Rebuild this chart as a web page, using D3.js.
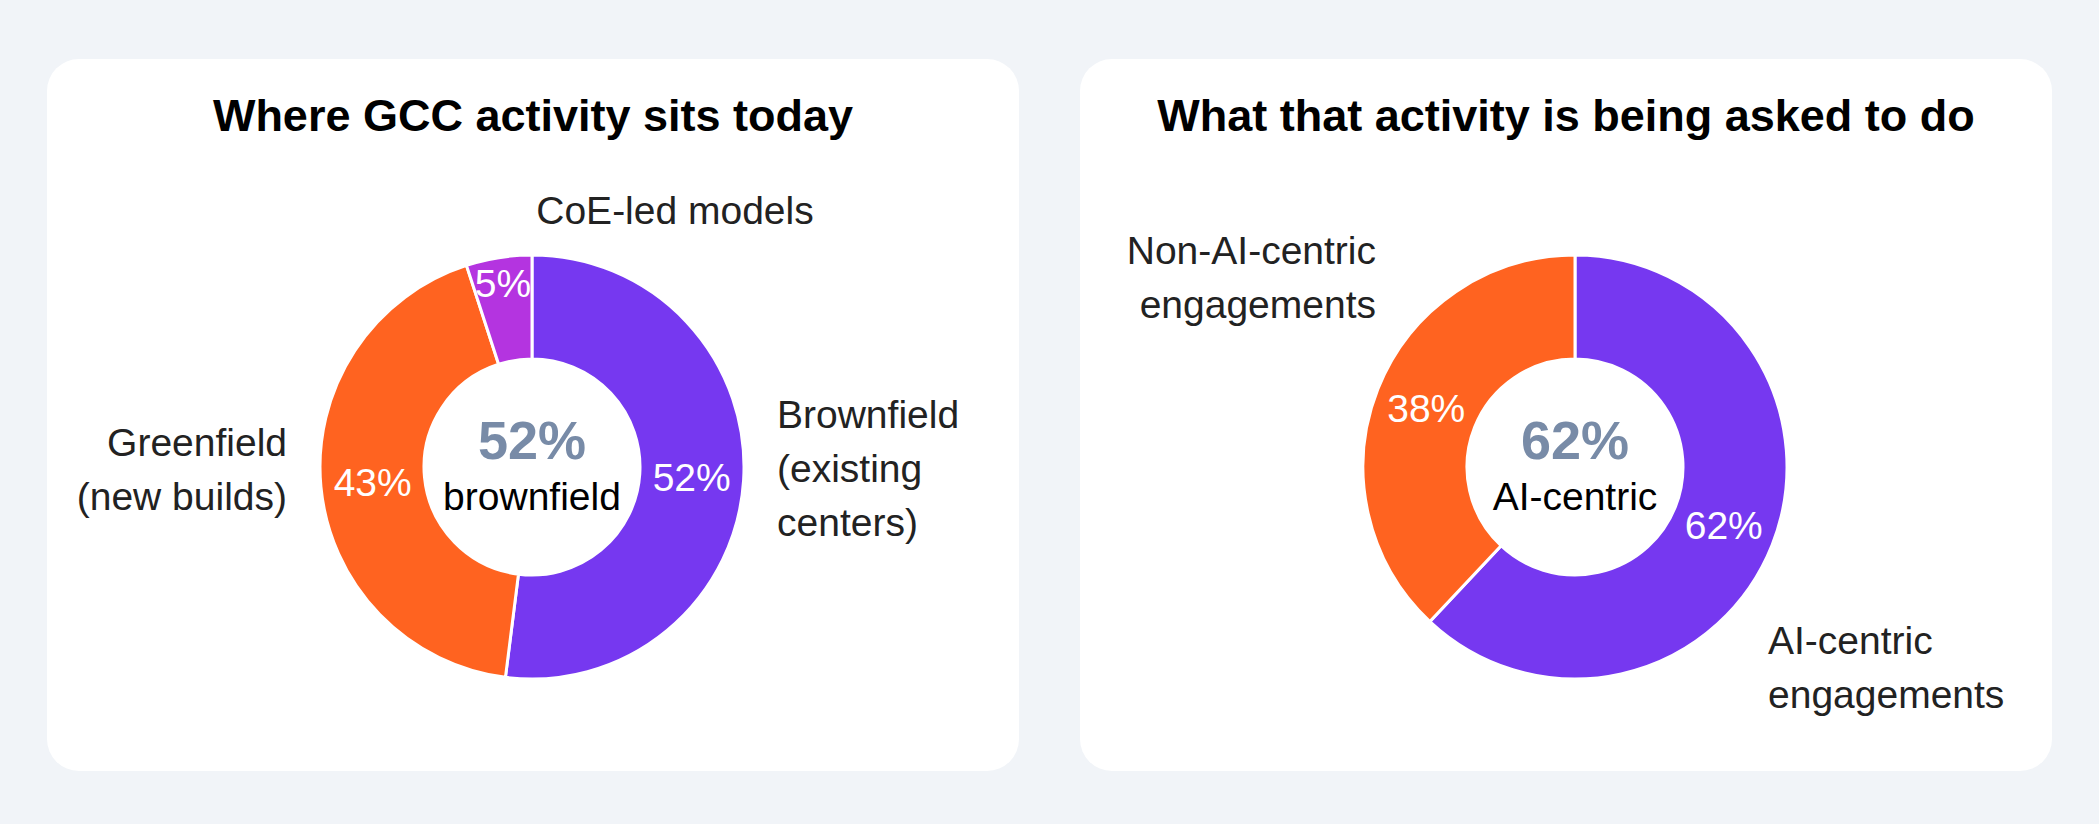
<!DOCTYPE html>
<html>
<head>
<meta charset="utf-8">
<script src="https://cdn.jsdelivr.net/npm/d3@7"></script>
<style>
  html, body { margin: 0; padding: 0; background: #f1f4f8; }
  svg { display: block; font-family: "Liberation Sans", Arial, Helvetica, sans-serif; }
</style>
</head>
<body>
<div id="chart"></div>
<script>
// chart 1
var leftTitle = "Where GCC activity sits today"
var leftCategories = ["Brownfield (existing centers)", "Greenfield (new builds)", "CoE-led models"]
var leftLabelLines = [["Brownfield", "(existing", "centers)"], ["Greenfield", "(new builds)"], ["CoE-led models"]]
var leftValues = [52, 43, 5]
var leftCenter = ["52%", "brownfield"]

// chart 2
var rightTitle = "What that activity is being asked to do"
var rightCategories = ["AI-centric engagements", "Non-AI-centric engagements"]
var rightLabelLines = [["AI-centric", "engagements"], ["Non-AI-centric", "engagements"]]
var rightValues = [62, 38]
var rightCenter = ["62%", "AI-centric"]

var W = 2099, H = 824
var svg = d3.select("#chart").append("svg").attr("width", W).attr("height", H)

function drawDonut(opt) {
	var g = svg.append("g")

	g.append("rect")
		.attr("x", opt.cardX).attr("y", 59)
		.attr("width", 972).attr("height", 712)
		.attr("rx", 32).attr("ry", 32)
		.attr("fill", "#ffffff")

	var tx = opt.cardX + 486
	g.append("text")
		.attr("x", tx).attr("y", 131)
		.attr("text-anchor", "middle")
		.attr("font-size", 45).attr("font-weight", "bold")
		.attr("fill", "#000")
		.text(opt.title)

	var cx = tx + opt.shift, cy = 467
	var pie = d3.pie().sort(null).value(function(d){return d})
	var arcs = pie(opt.values)
	var arc = d3.arc().innerRadius(108).outerRadius(212)

	var chart = g.append("g").attr("transform", "translate(" + cx + "," + cy + ")")

	chart.selectAll("path").data(arcs).enter()
		.append("path")
		.attr("d", arc)
		.attr("fill", function(d, i){return opt.colors[i]})
		.attr("stroke", "#fff")
		.attr("stroke-width", 3)

	// percent labels inside slices
	chart.selectAll("text.pct").data(arcs).enter()
		.append("text")
		.attr("class", "pct")
		.attr("transform", function(d, i){
			var r = opt.pctRadius[i]
			var a = (d.startAngle + d.endAngle) / 2
			return "translate(" + (r * Math.sin(a)) + "," + (-r * Math.cos(a)) + ")"
		})
		.attr("text-anchor", "middle")
		.attr("dominant-baseline", "central")
		.attr("font-size", 39)
		.attr("fill", "#fff")
		.text(function(d){return d.data + "%"})

	// outside labels
	opt.labelLines.forEach(function(lines, i) {
		var p = opt.labelPos[i]
		var t = chart.append("text")
			.attr("text-anchor", p.anchor)
			.attr("font-size", 39)
			.attr("fill", "#222")
		lines.forEach(function(line, j) {
			t.append("tspan")
				.attr("x", p.dx)
				.attr("y", p.dy + j * 54)
				.attr("dominant-baseline", "central")
				.text(line)
		})
	})

	// center text
	chart.append("text")
		.attr("x", 0).attr("y", -8)
		.attr("text-anchor", "middle")
		.attr("font-size", 54).attr("font-weight", "bold")
		.attr("fill", "#788ba7")
		.text(opt.center[0])
	chart.append("text")
		.attr("x", 0).attr("y", 43)
		.attr("text-anchor", "middle")
		.attr("font-size", 39)
		.attr("fill", "#000")
		.text(opt.center[1])
}

drawDonut({
	cardX: 47,
	shift: -1,
	title: leftTitle,
	values: leftValues,
	labelLines: leftLabelLines,
	center: leftCenter,
	colors: ["#7638f0", "#ff6320", "#b434e0"],
	pctRadius: [160, 160, 186],
	labelPos: [
		{anchor: "start", dx: 245, dy: -53},
		{anchor: "end", dx: -245, dy: -25},
		{anchor: "middle", dx: 143, dy: -257}
	]
})

drawDonut({
	cardX: 1080,
	shift: 9,
	title: rightTitle,
	values: rightValues,
	labelLines: rightLabelLines,
	center: rightCenter,
	colors: ["#7638f0", "#ff6320"],
	pctRadius: [160, 160],
	labelPos: [
		{anchor: "start", dx: 193, dy: 173},
		{anchor: "end", dx: -199, dy: -217}
	]
})
</script>
</body>
</html>
